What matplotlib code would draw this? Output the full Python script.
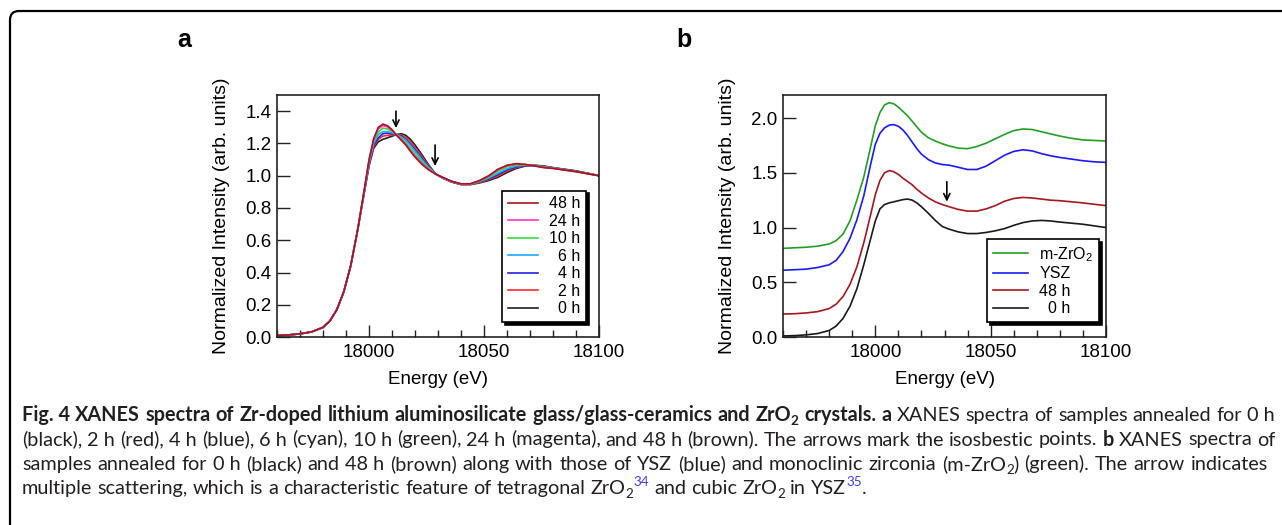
import matplotlib
matplotlib.use('Agg')
import matplotlib.pyplot as plt
from matplotlib.patches import FancyBboxPatch
from matplotlib.transforms import IdentityTransform
from matplotlib.ticker import MultipleLocator, FormatStrFormatter

plt.rcParams['font.family'] = ['Liberation Sans', 'DejaVu Sans']
plt.rcParams['mathtext.fontset'] = 'custom'
plt.rcParams['mathtext.rm'] = 'Liberation Sans'
plt.rcParams['mathtext.it'] = 'Liberation Sans:italic'
plt.rcParams['mathtext.bf'] = 'Liberation Sans:bold'

# ---- data ----
energy = [17960, 17965, 17970, 17975, 17980, 17983, 17986, 17989, 17992, 17995,
          17998, 18000, 18002, 18004, 18006, 18008, 18010, 18012, 18014, 18016,
          18018, 18020, 18023, 18026, 18029, 18032, 18036, 18040, 18044, 18048,
          18052, 18056, 18060, 18064, 18068, 18072, 18076, 18080, 18085, 18090,
          18095, 18100]

# pre-edge part is the same for all annealing times
edge = [0.01, 0.013, 0.02, 0.032, 0.06, 0.10, 0.17, 0.28, 0.44, 0.66]

h0 = edge + [0.90, 1.06, 1.17, 1.21, 1.225, 1.235, 1.245, 1.255, 1.26, 1.25,
             1.225, 1.19, 1.13, 1.065, 1.01, 0.985, 0.96, 0.945, 0.945, 0.955,
             0.97, 0.99, 1.02, 1.045, 1.06, 1.065, 1.06, 1.05, 1.04, 1.03, 1.015, 1.00]
h2 = edge + [0.905, 1.07, 1.18, 1.225, 1.245, 1.25, 1.253, 1.254, 1.252, 1.238,
             1.21, 1.175, 1.118, 1.06, 1.01, 0.986, 0.961, 0.946, 0.946, 0.958,
             0.976, 0.998, 1.029, 1.051, 1.062, 1.064, 1.058, 1.049, 1.039, 1.029, 1.015, 1.0]
h4 = edge + [0.907, 1.074, 1.19, 1.235, 1.26, 1.264, 1.259, 1.253, 1.245, 1.225,
             1.195, 1.16, 1.107, 1.055, 1.01, 0.987, 0.962, 0.947, 0.947, 0.962,
             0.98, 1.007, 1.036, 1.055, 1.063, 1.063, 1.057, 1.048, 1.038, 1.028, 1.014, 1.0]
h6 = edge + [0.91, 1.08, 1.20, 1.255, 1.273, 1.273, 1.265, 1.253, 1.24, 1.22,
             1.187, 1.152, 1.10, 1.05, 1.01, 0.988, 0.963, 0.948, 0.948, 0.963,
             0.985, 1.015, 1.043, 1.06, 1.065, 1.062, 1.055, 1.048, 1.037, 1.027, 1.014, 1.0]
h10 = edge + [0.914, 1.088, 1.212, 1.27, 1.295, 1.29, 1.273, 1.252, 1.233, 1.205,
              1.17, 1.135, 1.085, 1.045, 1.01, 0.988, 0.964, 0.948, 0.948, 0.965,
              0.991, 1.027, 1.054, 1.066, 1.067, 1.062, 1.053, 1.047, 1.036, 1.026, 1.013, 1.0]
h24 = edge + [0.918, 1.095, 1.223, 1.29, 1.31, 1.303, 1.28, 1.251, 1.225, 1.195,
              1.157, 1.122, 1.076, 1.038, 1.01, 0.989, 0.965, 0.949, 0.949, 0.968,
              0.997, 1.036, 1.062, 1.072, 1.069, 1.061, 1.051, 1.046, 1.035, 1.025, 1.012, 1.0]
h48 = edge + [0.92, 1.10, 1.23, 1.30, 1.32, 1.31, 1.285, 1.25, 1.22, 1.19,
              1.15, 1.115, 1.07, 1.035, 1.01, 0.99, 0.965, 0.95, 0.95, 0.97,
              1.00, 1.04, 1.065, 1.075, 1.07, 1.06, 1.05, 1.045, 1.035, 1.025, 1.012, 1.00]

ysz = [0.61, 0.615, 0.62, 0.635, 0.66, 0.70, 0.78, 0.90, 1.07, 1.29,
       1.58, 1.76, 1.86, 1.91, 1.935, 1.94, 1.925, 1.89, 1.84, 1.78,
       1.72, 1.67, 1.62, 1.59, 1.575, 1.57, 1.55, 1.53, 1.53, 1.56,
       1.61, 1.66, 1.695, 1.71, 1.70, 1.675, 1.655, 1.64, 1.625, 1.61, 1.60, 1.595]
m_zro2 = [0.81, 0.815, 0.82, 0.83, 0.85, 0.88, 0.94, 1.06, 1.25, 1.46,
          1.74, 1.93, 2.05, 2.12, 2.14, 2.13, 2.10, 2.06, 2.02, 1.97,
          1.92, 1.87, 1.82, 1.79, 1.765, 1.745, 1.725, 1.72, 1.74, 1.77,
          1.81, 1.85, 1.885, 1.90, 1.895, 1.875, 1.855, 1.835, 1.815, 1.80, 1.795, 1.79]
offset_48h_b = 0.2  # vertical offset of the 48 h curve in panel b

series_a = [h0, h2, h4, h6, h10, h24, h48]
labels_a = ['  0 h', '  2 h', '  4 h', '  6 h', '10 h', '24 h', '48 h']
colors_a = ['#1e1e1e', '#ff2a2a', '#2222dd', '#1aaaff', '#33dd33', '#ff33cc', '#a8161b']

caption_lines = [
    '*Fig.~4 XANES spectra of Zr-doped lithium aluminosilicate glass/glass-ceramics and ZrO_{2} crystals.* *a* XANES spectra of samples annealed for 0~h',
    '(black), 2~h (red), 4~h (blue), 6~h (cyan), 10~h (green), 24~h (magenta), and 48~h (brown). The arrows mark the isosbestic points. *b* XANES spectra of',
    'samples annealed for 0~h (black) and 48~h (brown) along with those of YSZ (blue) and monoclinic zirconia (m-ZrO_{2}) (green). The arrow indicates',
    'multiple scattering, which is a characteristic feature of tetragonal ZrO_{2}^{34} and cubic ZrO_{2} in YSZ^{35}.',
]

W, H = 1282, 525
fig = plt.figure(figsize=(W / 100, H / 100), dpi=100)
ax_a = fig.add_axes([0.2161, 0.358, 0.2512, 0.461])
ax_b = fig.add_axes([0.6108, 0.358, 0.2519, 0.461])


def style_axes(ax, ymax, ystep):
    ax.set_xlim(17960, 18100)
    ax.set_ylim(0, ymax)
    ax.xaxis.set_major_locator(MultipleLocator(50))
    ax.xaxis.set_minor_locator(MultipleLocator(10))
    ax.yaxis.set_major_locator(MultipleLocator(ystep))
    ax.yaxis.set_major_formatter(FormatStrFormatter('%.1f'))
    ax.tick_params(which='major', direction='in', length=9, width=1.0,
                   labelsize=13.5, top=False, right=False, color='#222222')
    ax.tick_params(axis='x', which='major', pad=5)
    ax.tick_params(axis='y', which='major', pad=4)
    ax.tick_params(which='minor', direction='in', length=5, width=1.0,
                   top=False, right=False, color='#222222')
    for s in ax.spines.values():
        s.set_linewidth(1.2)
        s.set_color('#222222')
    ax.set_xlabel('Energy (eV)', fontsize=13.5, labelpad=7)
    ax.set_ylabel('Normalized Intensity (arb. units)', fontsize=14, labelpad=11)


# ---- panel a ----
lines_a = []
for ys, lab, col in zip(series_a, labels_a, colors_a):
    ln, = ax_a.plot(energy, ys, color=col, lw=1.2, label=lab)
    lines_a.append(ln)
style_axes(ax_a, 1.5, 0.2)
leg = ax_a.legend(lines_a[::-1], labels_a[::-1], loc='lower right',
                  bbox_to_anchor=(0.96, 0.062), borderaxespad=0, fancybox=False,
                  shadow={'color': 'k', 'alpha': 1}, edgecolor='k', framealpha=1,
                  fontsize=11.5, handlelength=1.9, labelspacing=0.16,
                  handletextpad=0.7, borderpad=0.35)
leg.get_frame().set_linewidth(1.2)
arrow = dict(arrowstyle='->,head_length=0.45,head_width=0.22', lw=1.2, color='k',
             shrinkA=0, shrinkB=0)
ax_a.annotate('', xy=(18011.7, 1.295), xytext=(18011.7, 1.40), arrowprops=arrow)
ax_a.annotate('', xy=(18028.7, 1.06), xytext=(18028.7, 1.19), arrowprops=arrow)

# ---- panel b ----
l1, = ax_b.plot(energy, h0, color='#1a1a1a', lw=1.2)
l2, = ax_b.plot(energy, [v + offset_48h_b for v in h48], color='#a8161b', lw=1.2)
l3, = ax_b.plot(energy, ysz, color='#1a1aff', lw=1.2)
l4, = ax_b.plot(energy, m_zro2, color='#23a023', lw=1.2)
style_axes(ax_b, 2.21, 0.5)
leg_b = ax_b.legend([l4, l3, l2, l1], ['m-ZrO$_2$', 'YSZ', '48 h', '  0 h'],
                    loc='lower right', bbox_to_anchor=(0.978, 0.062), borderaxespad=0,
                    fancybox=False, shadow={'color': 'k', 'alpha': 1}, edgecolor='k',
                    framealpha=1, fontsize=11.5, handlelength=2.2, labelspacing=0.16,
                    handletextpad=0.7, borderpad=0.35)
leg_b.get_frame().set_linewidth(1.2)
ax_b.annotate('', xy=(18031, 1.236), xytext=(18031, 1.418), arrowprops=arrow)

fig.text(177 / W, 1 - 40 / H, 'a', fontsize=18, fontweight='bold', ha='left', va='center')
fig.text(676 / W, 1 - 40 / H, 'b', fontsize=18, fontweight='bold', ha='left', va='center')

# rounded frame around the whole figure (runs off the right and bottom edges)
frame = FancyBboxPatch((10, -40), 1400, H - 11 + 40, boxstyle='round,pad=0,rounding_size=9',
                       fill=False, lw=1.6, ec='k', transform=IdentityTransform())
fig.add_artist(frame)

# ---- caption, laid out word by word ----
cap_font = ['Lato', 'DejaVu Sans']
cap_color = '#231f20'
renderer = fig.canvas.get_renderer()


def parse_word(word, bold):
    out, buf, i = [], '', 0
    while i < len(word):
        c = word[i]
        if c == '*':
            if buf:
                out.append((buf, bold, 'n'))
                buf = ''
            bold = not bold
            i += 1
        elif c in '_^' and i + 1 < len(word) and word[i + 1] == '{':
            j = word.index('}', i)
            if buf:
                out.append((buf, bold, 'n'))
                buf = ''
            out.append((word[i + 2:j], bold, 'sub' if c == '_' else 'sup'))
            i = j + 1
        else:
            buf += ' ' if c == '~' else c
            i += 1
    if buf:
        out.append((buf, bold, 'n'))
    return out, bold


def make_words(line, fs):
    words, bold = [], False
    for w in line.split(' '):
        runs, bold = parse_word(w, bold)
        texts = []
        for s, b, kind in runs:
            size = fs if kind == 'n' else fs * 0.68
            t = fig.text(0, 0, s, transform=IdentityTransform(), fontsize=size,
                         fontweight='bold' if b else 'normal', family=cap_font,
                         color='#3d3dff' if kind == 'sup' else cap_color,
                         ha='left', va='baseline')
            texts.append((t, kind, t.get_window_extent(renderer).width))
        words.append(texts)
    return words


def space_width(fs):
    a = fig.text(0, 0, 'n n', family=cap_font, fontsize=fs, transform=IdentityTransform())
    b = fig.text(0, 0, 'nn', family=cap_font, fontsize=fs, transform=IdentityTransform())
    w = a.get_window_extent(renderer).width - b.get_window_extent(renderer).width
    a.remove()
    b.remove()
    return w


def natural_width(line, fs):
    words = make_words(line, fs)
    total = sum(sum(r[2] for r in w) for w in words) + space_width(fs) * (len(words) - 1)
    for w in words:
        for r in w:
            r[0].remove()
    return total


fs_cap = min(10 * (1275 - 22) / natural_width(ln, 10) for ln in caption_lines[:3])
px = fs_cap * 100 / 72
baselines = [421, 445.5, 470, 494]
rights = [1275, 1275, 1268, None]
for line, yb, right in zip(caption_lines, baselines, rights):
    words = make_words(line, fs_cap)
    widths = [sum(r[2] for r in w) for w in words]
    if right is None:
        gap = space_width(fs_cap)
    else:
        gap = (right - 22 - sum(widths)) / (len(words) - 1)
    x = 22
    y = H - yb
    for w, ww in zip(words, widths):
        xr = x
        for t, kind, rw in w:
            dy = {'n': 0, 'sub': -0.22 * px, 'sup': 0.42 * px}[kind]
            t.set_position((xr, y + dy))
            xr += rw
        x += ww + gap

fig.savefig('out.png', dpi=100)
